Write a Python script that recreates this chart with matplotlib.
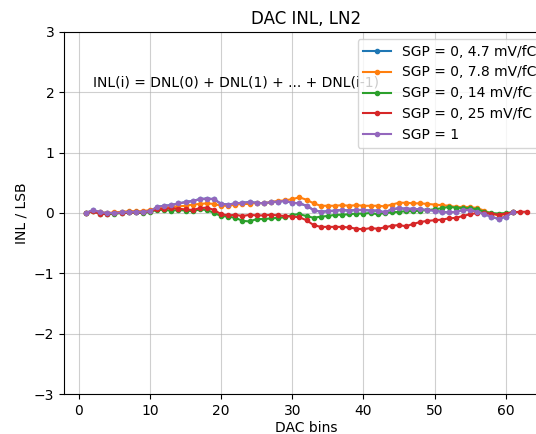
"""
DAC INL plot, LN2
"""
import numpy as np
import matplotlib
matplotlib.use('Agg')
import matplotlib.pyplot as plt

# INL per DAC bin (LSB)
inl_78 = [0.0, 0.04, 0.01, 0.0, 0.01, 0.02, 0.03, 0.03, 0.03, 0.05,
          0.08, 0.09, 0.1, 0.11, 0.12, 0.14, 0.15, 0.16, 0.15, 0.12,
          0.12, 0.14, 0.15, 0.15, 0.17, 0.16, 0.18, 0.2, 0.21, 0.23,
          0.26, 0.22, 0.16, 0.12, 0.12, 0.12, 0.13, 0.12, 0.13, 0.12,
          0.12, 0.12, 0.11, 0.14, 0.17, 0.17, 0.16, 0.16, 0.15, 0.14,
          0.13, 0.12, 0.1, 0.1, 0.1, 0.08, 0.04, -0.01, -0.04, -0.02, 0.01]
inl_sgp1 = [0.0, 0.05, 0.01, 0.0, 0.0, 0.01, 0.02, 0.02, 0.02, 0.03,
            0.1, 0.12, 0.13, 0.16, 0.18, 0.2, 0.23, 0.24, 0.23, 0.15,
            0.14, 0.16, 0.17, 0.18, 0.17, 0.16, 0.18, 0.19, 0.2, 0.17,
            0.16, 0.12, 0.05, 0.02, 0.03, 0.04, 0.05, 0.04, 0.05, 0.05,
            0.04, 0.04, 0.01, 0.06, 0.08, 0.07, 0.07, 0.06, 0.05, 0.04,
            0.02, 0.01, 0.02, 0.05, 0.05, 0.02, -0.02, -0.06, -0.1, -0.06, 0.01]
inl_47 = list(inl_sgp1)  # hidden under SGP = 1 in the reference
inl_14 = [0.0, 0.03, -0.01, -0.02, -0.01, 0.0, 0.01, 0.01, 0.0, 0.02,
          0.05, 0.05, 0.04, 0.05, 0.04, 0.03, 0.06, 0.05, 0.0, -0.05,
          -0.06, -0.08, -0.13, -0.14, -0.1, -0.1, -0.09, -0.08, -0.07, -0.03,
          -0.02, -0.05, -0.08, -0.06, -0.05, -0.03, -0.03, -0.02, -0.01, -0.01,
          0.0, -0.02, 0.0, 0.01, 0.02, 0.03, 0.03, 0.04, 0.05, 0.06,
          0.08, 0.1, 0.09, 0.08, 0.08, 0.06, 0.02, 0.0, -0.01, 0.0, 0.01]
inl_25 = [0.0, 0.03, -0.02, -0.01, 0.0, 0.0, 0.01, 0.01, 0.01, 0.03,
          0.06, 0.07, 0.08, 0.07, 0.06, 0.05, 0.08, 0.09, 0.05, -0.02,
          -0.04, -0.03, -0.05, -0.03, -0.04, -0.04, -0.03, -0.04, -0.05, -0.06,
          -0.07, -0.12, -0.2, -0.23, -0.23, -0.23, -0.23, -0.24, -0.26, -0.27,
          -0.25, -0.26, -0.24, -0.21, -0.2, -0.22, -0.18, -0.15, -0.13, -0.12,
          -0.11, -0.09, -0.08, -0.05, -0.02, 0.0, 0.0, -0.01, -0.03, -0.01,
          0.01, 0.02, 0.02]

series = [
    ('SGP = 0, 4.7 mV/fC', inl_47),
    ('SGP = 0, 7.8 mV/fC', inl_78),
    ('SGP = 0, 14 mV/fC', inl_14),
    ('SGP = 0, 25 mV/fC', inl_25),
    ('SGP = 1', inl_sgp1),
]

fig = plt.figure(figsize=(5.36, 4.34), dpi=100)
# axes run past the right edge, like the cropped original
ax = fig.add_axes([64 / 536, 40 / 434, 485 / 536, 362 / 434])

for label, vals in series:
    x = np.arange(1, len(vals) + 1)
    ax.plot(x, vals, marker='.', label=label)

ax.text(2, 2.1, 'INL(i) = DNL(0) + DNL(1) + ... + DNL(i-1)')
ax.set_ylim(-3, 3)
ax.set_xlabel('DAC bins', labelpad=2)
ax.set_ylabel('INL / LSB')
ax.set_title('DAC INL, LN2')
ax.grid(True, alpha=0.6)
ax.legend(loc='upper right')

fig.savefig('out.png', dpi=100)
